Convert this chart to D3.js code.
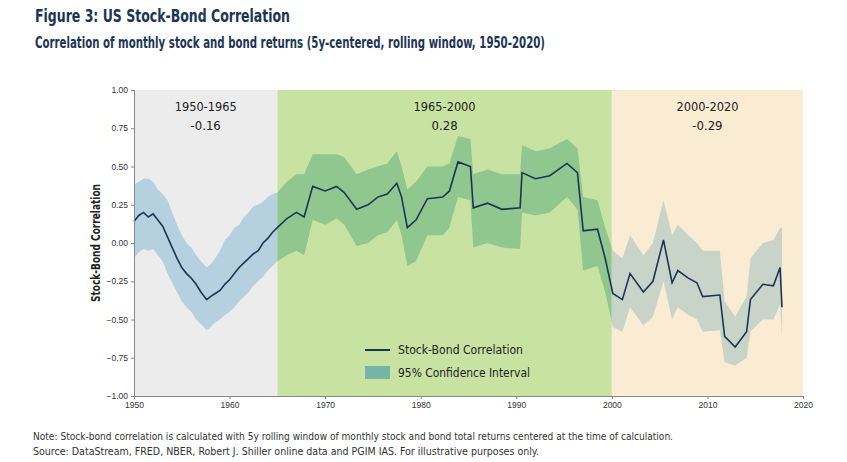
<!DOCTYPE html><html><head><meta charset="utf-8">
<script src="https://cdn.jsdelivr.net/npm/d3@7"></script>
<style>body{margin:0;background:#fff;font-family:"DejaVu Sans Condensed","Liberation Sans",Arial,sans-serif}</style></head><body>
<svg id="c" width="847" height="462"></svg>
<script>
const years = [1950,1950.5,1951,1951.5,1952,1952.5,1953,1953.5,1954,1954.5,1955,1955.5,1956,1956.5,1957,1957.6,1958,1958.5,1959,1959.5,1960,1960.5,1961,1961.5,1962,1962.5,1963,1963.5,1964,1964.5,1965,
1966,1967,1967.8,1968.7,1970,1971.2,1972,1973.3,1974.5,1975.5,1976.5,1977.5,1978,1978.6,1979.5,1980.7,1982.3,1983,1983.9,1985.2,1985.5,1987,1988.5,1990.4,1990.6,1992,1993.5,1995.3,1996.4,1997,1998.5,1999.3,2000.1,
2001.1,2001.9,2003.3,2004.3,2005.4,2006.3,2006.9,2008,2008.9,2009.5,2011.3,2011.8,2012.9,2014.1,2014.5,2015.8,2016.9,2017.6,2017.8];
const corr = [0.14,0.18,0.2,0.17,0.19,0.15,0.11,0.04,-0.03,-0.1,-0.16,-0.2,-0.23,-0.27,-0.32,-0.37,-0.35,-0.33,-0.31,-0.27,-0.24,-0.2,-0.16,-0.13,-0.1,-0.07,-0.05,0.0,0.03,0.07,0.1,
0.16,0.2,0.17,0.37,0.34,0.37,0.33,0.22,0.25,0.3,0.32,0.39,0.3,0.1,0.15,0.29,0.3,0.34,0.53,0.5,0.23,0.26,0.22,0.23,0.46,0.42,0.44,0.52,0.46,0.08,0.09,-0.1,-0.33,
-0.37,-0.2,-0.32,-0.25,0.02,-0.26,-0.18,-0.23,-0.26,-0.35,-0.34,-0.61,-0.68,-0.58,-0.37,-0.27,-0.28,-0.16,-0.42];
const ciHigh = [0.38,0.4,0.42,0.42,0.4,0.35,0.32,0.28,0.2,0.12,0.05,0.0,-0.03,-0.08,-0.12,-0.16,-0.14,-0.1,-0.05,0.02,0.05,0.1,0.12,0.17,0.2,0.24,0.25,0.27,0.3,0.32,0.33,
0.4,0.45,0.45,0.58,0.58,0.58,0.56,0.45,0.48,0.5,0.52,0.6,0.5,0.35,0.4,0.5,0.5,0.52,0.7,0.68,0.45,0.48,0.45,0.45,0.64,0.6,0.62,0.68,0.62,0.3,0.28,0.1,-0.05,
-0.1,0.05,-0.08,0.0,0.28,0.05,0.12,0.05,0.0,-0.05,-0.05,-0.38,-0.48,-0.35,-0.1,0.0,0.02,0.1,0.1];
const ciLow = [-0.1,-0.06,-0.04,-0.05,-0.04,-0.08,-0.12,-0.2,-0.26,-0.32,-0.38,-0.42,-0.45,-0.5,-0.53,-0.57,-0.55,-0.52,-0.5,-0.47,-0.45,-0.42,-0.38,-0.35,-0.32,-0.28,-0.25,-0.22,-0.18,-0.15,-0.12,
-0.08,-0.05,-0.08,0.15,0.12,0.16,0.12,-0.02,0.0,0.05,0.07,0.15,0.05,-0.15,-0.12,0.05,0.05,0.1,0.3,0.28,-0.03,0.0,-0.03,-0.04,0.2,0.18,0.2,0.3,0.22,-0.18,-0.15,-0.32,-0.55,
-0.58,-0.42,-0.54,-0.48,-0.25,-0.5,-0.42,-0.47,-0.5,-0.58,-0.57,-0.78,-0.8,-0.75,-0.58,-0.5,-0.5,-0.4,-0.62];
const periods = [{from:1950,to:1965,label:"1950-1965",avg:"-0.16"},{from:1965,to:2000,label:"1965-2000",avg:"0.28"},{from:2000,to:2020,label:"2000-2020",avg:"-0.29"}];
const bgColors = ["#ebeceb","#c7e2a1","#faebd3"];
const ciColors = ["#b5d0de","#8fc78f","#c9d4c9"];
const yTicks = [1,0.75,0.5,0.25,0,-0.25,-0.5,-0.75,-1];
const xTicks = [1950,1960,1970,1980,1990,2000,2010,2020];

const svg = d3.select("#c"), navy="#1c3557";
const x = d3.scaleLinear().domain([1950,2020]).range([134,803]);
const y = d3.scaleLinear().domain([-1,1]).range([396,90]);
const data = years.map((t,i)=>({t,v:corr[i],lo:ciLow[i],hi:ciHigh[i]}));
function txt(xp,yp,s,size,w,len,fill){const t=svg.append("text").attr("x",xp).attr("y",yp).attr("font-size",size).attr("fill",fill||"#222").text(s);if(w)t.attr("font-weight",w);if(len)t.attr("textLength",len).attr("lengthAdjust","spacingAndGlyphs");return t;}

txt(35,22,"Figure 3: US Stock-Bond Correlation",17,"bold",255,navy);
txt(35,48,"Correlation of monthly stock and bond returns (5y-centered, rolling window, 1950-2020)",16.5,"bold",510,navy);

const area = d3.area().x(d=>x(d.t)).y0(d=>y(d.lo)).y1(d=>y(d.hi));
periods.forEach((p,i)=>{
  svg.append("rect").attr("x",x(p.from)).attr("width",x(p.to)-x(p.from)).attr("y",y(1)).attr("height",y(-1)-y(1)).attr("fill",bgColors[i]);
  svg.append("clipPath").attr("id","cp"+i).append("rect").attr("x",x(p.from)).attr("width",x(p.to)-x(p.from)).attr("y",0).attr("height",462);
  svg.append("path").datum(data).attr("d",area).attr("fill",ciColors[i]).attr("clip-path",`url(#cp${i})`);
  const cx=(x(p.from)+x(p.to))/2;
  txt(cx-31,111,p.label,13,null,62);
  svg.append("text").attr("x",cx).attr("y",130).attr("text-anchor","middle").attr("font-size",13).attr("fill","#222").text(p.avg);
});
svg.append("path").datum(data).attr("d",d3.line().x(d=>x(d.t)).y(d=>y(d.v))).attr("fill","none").attr("stroke",navy).attr("stroke-width",1.6);

const ya = svg.append("g").attr("transform","translate(134,0)").call(d3.axisLeft(y).tickValues(yTicks).tickFormat(d3.format(".2f")).tickSize(3));
const xa = svg.append("g").attr("transform","translate(0,396)").call(d3.axisBottom(x).tickValues(xTicks).tickFormat(d3.format("d")).tickSize(3));
[ya,xa].forEach(a=>{a.selectAll("text").attr("font-size",8.5).attr("fill","#333");a.selectAll("line,path").attr("stroke","#888");});
svg.append("text").attr("transform","translate(100,243) rotate(-90)").attr("text-anchor","middle").attr("font-size",12).attr("font-weight","bold").attr("fill","#222").attr("textLength",118).attr("lengthAdjust","spacingAndGlyphs").text("Stock-Bond Correlation");

svg.append("line").attr("x1",365).attr("x2",390).attr("y1",350).attr("y2",350).attr("stroke",navy).attr("stroke-width",2);
txt(398,354,"Stock-Bond Correlation",12.5,null,125);
svg.append("rect").attr("x",365).attr("y",366).attr("width",25).attr("height",13).attr("fill","#74b5a5");
txt(398,377,"95% Confidence Interval",12.5,null,132);

txt(33,440,"Note: Stock-bond correlation is calculated with 5y rolling window of monthly stock and bond total returns centered at the time of calculation.",10.5,null,640,"#333");
txt(33,455,"Source: DataStream, FRED, NBER, Robert J. Shiller online data and PGIM IAS. For illustrative purposes only.",10.5,null,506,"#333");
</script></body></html>
